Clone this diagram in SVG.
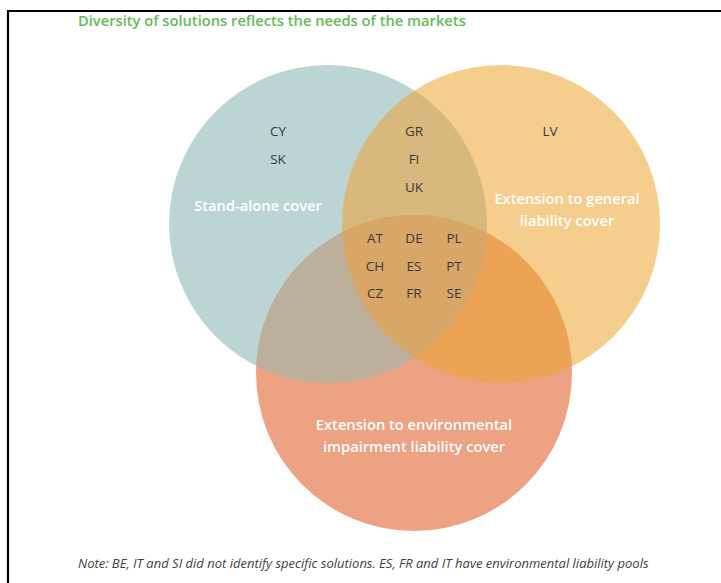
<svg xmlns="http://www.w3.org/2000/svg" width="721" height="583" viewBox="0 0 721 583">
<style>
.cc{font-family:"Open Sans","Liberation Sans",sans-serif;font-size:13.5px;fill:#3a3a3a;text-anchor:middle}
.lbl{font-family:"Open Sans","Liberation Sans",sans-serif;font-size:14.7px;font-weight:600;fill:#ffffff;text-anchor:middle}
.title{font-family:"Open Sans","Liberation Sans",sans-serif;font-size:14.7px;font-weight:600;fill:#62bb57}
.note{font-family:"Open Sans","Liberation Sans",sans-serif;font-size:13px;font-style:italic;fill:#404040}
</style>
<defs>
<clipPath id="cB"><circle cx="328" cy="224" r="159"/></clipPath>
<clipPath id="cO"><circle cx="501" cy="224" r="159"/></clipPath>
<clipPath id="cS"><circle cx="414" cy="373" r="158"/></clipPath>
</defs>
<rect x="0" y="0" width="721" height="583" fill="#ffffff"/>
<path d="M8 583 V11 H721" fill="none" stroke="#000" stroke-width="2.2"/>
<text class="title" x="78" y="26">Diversity of solutions reflects the needs of the markets</text>
<g id="circle-standalone"><circle cx="328" cy="224" r="159" fill="#bad5d4"/></g>
<g id="circle-general"><circle cx="501" cy="224" r="159" fill="#f5cd8d"/></g>
<g id="circle-environmental"><circle cx="414" cy="373" r="158" fill="#eda283"/></g>
<g id="overlaps">
<circle cx="501" cy="224" r="159" fill="#d7b97d" clip-path="url(#cB)"/>
<circle cx="414" cy="373" r="158" fill="#bcaf9c" clip-path="url(#cB)"/>
<circle cx="414" cy="373" r="158" fill="#eda356" clip-path="url(#cO)"/>
<g clip-path="url(#cB)"><circle cx="414" cy="373" r="158" fill="#d8a666" clip-path="url(#cO)"/></g>
</g>
<g id="labels">
<text class="lbl" x="258" y="211">Stand-alone cover</text>
<text class="lbl" x="567" y="204">Extension to general</text>
<text class="lbl" x="567" y="226">liability cover</text>
<text class="lbl" x="414" y="430">Extension to environmental</text>
<text class="lbl" x="414" y="452">impairment liability cover</text>
</g>
<g id="countries">
<text class="cc" x="278" y="136">CY</text>
<text class="cc" x="278" y="164">SK</text>
<text class="cc" x="414" y="136">GR</text>
<text class="cc" x="414" y="164">FI</text>
<text class="cc" x="414" y="192">UK</text>
<text class="cc" x="550" y="136">LV</text>
<text class="cc" x="375" y="243">AT</text>
<text class="cc" x="414" y="243">DE</text>
<text class="cc" x="454" y="243">PL</text>
<text class="cc" x="375" y="271">CH</text>
<text class="cc" x="414" y="271">ES</text>
<text class="cc" x="454" y="271">PT</text>
<text class="cc" x="375" y="298">CZ</text>
<text class="cc" x="414" y="298">FR</text>
<text class="cc" x="454" y="298">SE</text>
</g>
<text class="note" x="78" y="568">Note: BE, IT and SI did not identify specific solutions. ES, FR and IT have environmental liability pools</text>
</svg>
